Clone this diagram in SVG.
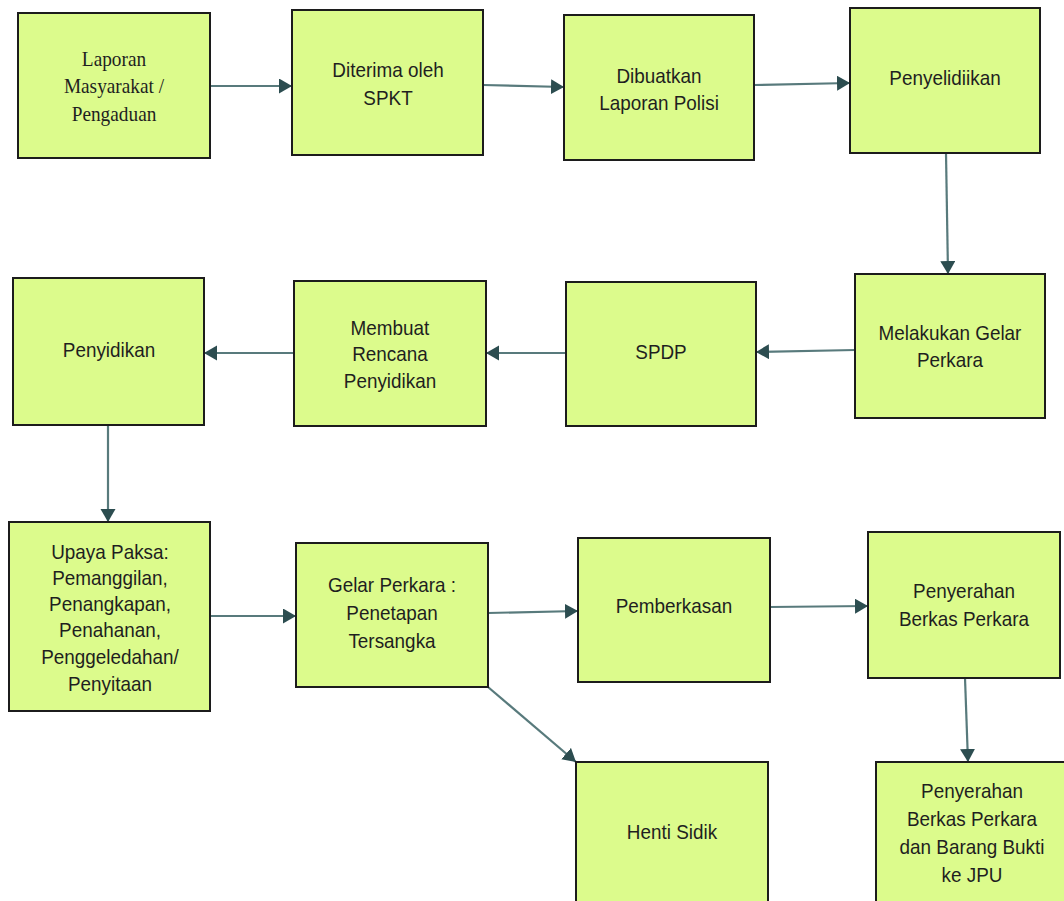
<svg xmlns="http://www.w3.org/2000/svg" width="1064" height="901" viewBox="0 0 1064 901">
  <style>
    .box { fill: #dcfb8c; stroke: #1c1c1c; stroke-width: 2; }
    .lbl { font-family: "Liberation Sans", Arial, sans-serif; font-size: 21px; fill: #1f1f1f; text-anchor: middle; }
    .serif { font-family: "Liberation Serif", "Times New Roman", serif; font-size: 21px; fill: #1f1f1f; text-anchor: middle; }
    .link { fill: none; stroke: #587a7c; stroke-width: 2.2; marker-end: url(#arrow); }
  </style>
  <defs>
    <marker id="arrow" markerUnits="userSpaceOnUse" markerWidth="14" markerHeight="16" refX="13" refY="7.5" orient="auto">
      <path d="M0,0 L13,7.5 L0,15 Z" fill="#2c4d50"/>
    </marker>
  </defs>
  <rect width="1064" height="901" fill="#ffffff"/>

  <!-- connectors -->
  <g id="connectors">
    <path class="link" d="M210,86 L292,86"/>
    <path class="link" d="M483,85 L564,87"/>
    <path class="link" d="M754,85 L850,83"/>
    <path class="link" d="M946,153 L948,274"/>
    <path class="link" d="M855,350 L756,352"/>
    <path class="link" d="M566,353 L486,353"/>
    <path class="link" d="M294,353 L204,353"/>
    <path class="link" d="M108,425 L108,522"/>
    <path class="link" d="M210,616 L296,616"/>
    <path class="link" d="M488,613 L578,611"/>
    <path class="link" d="M770,607 L868,606"/>
    <path class="link" d="M488,687 L576,762"/>
    <path class="link" d="M965,678 L968,762"/>
  </g>

  <!-- row 1 -->
  <g id="laporan-masyarakat">
    <rect class="box" x="18" y="13" width="192" height="145"/>
    <text class="serif" transform="matrix(0.92 0 0 1 114 66)">Laporan</text>
    <text class="serif" transform="matrix(0.92 0 0 1 114 93)">Masyarakat /</text>
    <text class="serif" transform="matrix(0.92 0 0 1 114 121)">Pengaduan</text>
  </g>
  <g id="diterima-spkt">
    <rect class="box" x="292" y="10" width="191" height="145"/>
    <text class="lbl" transform="matrix(0.9 0 0 1 388 77)">Diterima oleh</text>
    <text class="lbl" transform="matrix(0.9 0 0 1 388 105)">SPKT</text>
  </g>
  <g id="laporan-polisi">
    <rect class="box" x="564" y="15" width="190" height="145"/>
    <text class="lbl" transform="matrix(0.9 0 0 1 659 83)">Dibuatkan</text>
    <text class="lbl" transform="matrix(0.9 0 0 1 659 110)">Laporan Polisi</text>
  </g>
  <g id="penyelidikan">
    <rect class="box" x="850" y="8" width="190" height="145"/>
    <text class="lbl" transform="matrix(0.9 0 0 1 945 85)">Penyelidiikan</text>
  </g>

  <!-- row 2 -->
  <g id="gelar-perkara-1">
    <rect class="box" x="855" y="274" width="190" height="144"/>
    <text class="lbl" transform="matrix(0.9 0 0 1 950 340)">Melakukan Gelar</text>
    <text class="lbl" transform="matrix(0.9 0 0 1 950 367)">Perkara</text>
  </g>
  <g id="spdp">
    <rect class="box" x="566" y="282" width="190" height="144"/>
    <text class="lbl" transform="matrix(0.9 0 0 1 661 359)">SPDP</text>
  </g>
  <g id="rencana-penyidikan">
    <rect class="box" x="294" y="281" width="192" height="145"/>
    <text class="lbl" transform="matrix(0.9 0 0 1 390 335)">Membuat</text>
    <text class="lbl" transform="matrix(0.9 0 0 1 390 361)">Rencana</text>
    <text class="lbl" transform="matrix(0.9 0 0 1 390 388)">Penyidikan</text>
  </g>
  <g id="penyidikan">
    <rect class="box" x="13" y="278" width="191" height="147"/>
    <text class="lbl" transform="matrix(0.9 0 0 1 109 357)">Penyidikan</text>
  </g>

  <!-- row 3 -->
  <g id="upaya-paksa">
    <rect class="box" x="9" y="522" width="201" height="189"/>
    <text class="lbl" transform="matrix(0.9 0 0 1 110 559)">Upaya Paksa:</text>
    <text class="lbl" transform="matrix(0.9 0 0 1 110 585)">Pemanggilan,</text>
    <text class="lbl" transform="matrix(0.9 0 0 1 110 611)">Penangkapan,</text>
    <text class="lbl" transform="matrix(0.9 0 0 1 110 637)">Penahanan,</text>
    <text class="lbl" transform="matrix(0.9 0 0 1 110 664)">Penggeledahan/</text>
    <text class="lbl" transform="matrix(0.9 0 0 1 110 691)">Penyitaan</text>
  </g>
  <g id="penetapan-tersangka">
    <rect class="box" x="296" y="543" width="192" height="144"/>
    <text class="lbl" transform="matrix(0.9 0 0 1 392 592)">Gelar Perkara :</text>
    <text class="lbl" transform="matrix(0.9 0 0 1 392 620)">Penetapan</text>
    <text class="lbl" transform="matrix(0.9 0 0 1 392 648)">Tersangka</text>
  </g>
  <g id="pemberkasan">
    <rect class="box" x="578" y="538" width="192" height="144"/>
    <text class="lbl" transform="matrix(0.9 0 0 1 674 613)">Pemberkasan</text>
  </g>
  <g id="penyerahan-berkas">
    <rect class="box" x="868" y="532" width="192" height="146"/>
    <text class="lbl" transform="matrix(0.9 0 0 1 964 598)">Penyerahan</text>
    <text class="lbl" transform="matrix(0.9 0 0 1 964 626)">Berkas Perkara</text>
  </g>

  <!-- row 4 -->
  <g id="henti-sidik">
    <rect class="box" x="576" y="762" width="192" height="150"/>
    <text class="lbl" transform="matrix(0.9 0 0 1 672 839)">Henti Sidik</text>
  </g>
  <g id="penyerahan-jpu">
    <rect class="box" x="876" y="762" width="192" height="150"/>
    <text class="lbl" transform="matrix(0.9 0 0 1 972 798)">Penyerahan</text>
    <text class="lbl" transform="matrix(0.9 0 0 1 972 826)">Berkas Perkara</text>
    <text class="lbl" transform="matrix(0.9 0 0 1 972 854)">dan Barang Bukti</text>
    <text class="lbl" transform="matrix(0.9 0 0 1 972 882)">ke JPU</text>
  </g>
</svg>
